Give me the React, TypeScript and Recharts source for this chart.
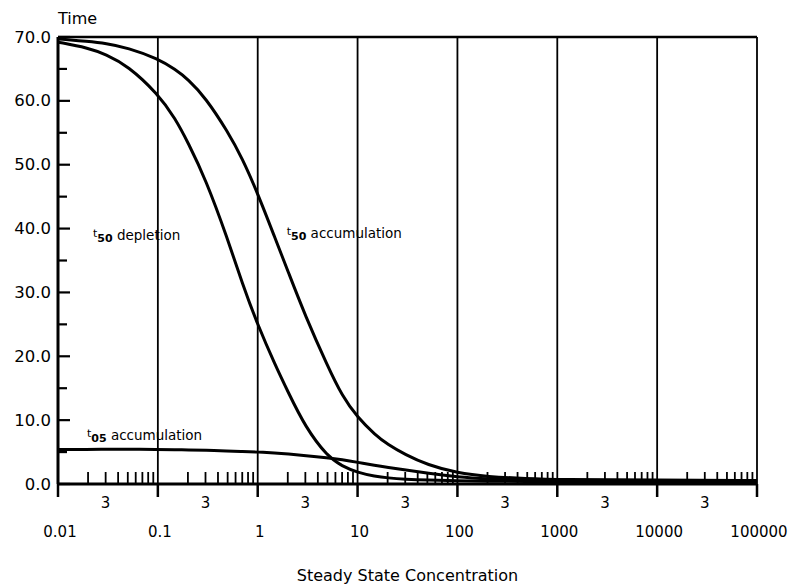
import React from 'react';
import { LineChart, Line, XAxis, YAxis, ReferenceLine, ReferenceDot } from 'recharts';

const concentrations = [0.01, 0.02, 0.03, 0.05, 0.1, 0.15, 0.2, 0.3, 0.5, 0.7, 1, 1.5, 2, 3, 5, 7, 10, 15, 20, 30, 50, 100, 200, 500, 1000, 10000, 100000];
const t50Accumulation = [69.7, 69.3, 69.0, 68.3, 66.6, 64.9, 63.4, 60.5, 55.2, 51.0, 45.5, 38.4, 33.4, 26.3, 18.5, 13.8, 10.4, 7.7, 6.2, 4.6, 3.0, 1.7, 1.15, 0.85, 0.7, 0.6, 0.55];
const t50Depletion = [69.2, 68.3, 67.3, 65.5, 61.1, 57.2, 53.5, 47.8, 38.4, 31.4, 24.9, 18.6, 14.5, 8.9, 4.3, 2.8, 1.8, 1.2, 0.95, 0.75, 0.6, 0.5, 0.45, 0.4, 0.35, 0.3, 0.3];
const t05Accumulation = [5.4, 5.42, 5.45, 5.45, 5.4, 5.38, 5.35, 5.28, 5.18, 5.1, 5.0, 4.85, 4.7, 4.45, 4.1, 3.8, 3.4, 2.9, 2.6, 2.2, 1.7, 1.1, 0.8, 0.6, 0.5, 0.45, 0.45];

const decades = [0.01, 0.1, 1, 10, 100, 1000, 10000, 100000];
const decadeLabels = ['0.01', '0.1', '1', '10', '100', '1000', '10000', '100000'];
const minorMultipliers = [2, 3, 4, 5, 6, 7, 8, 9];
const yTicks = [0, 5, 10, 15, 20, 25, 30, 35, 40, 45, 50, 55, 60, 65, 70];

const annotations = [
  { x: 0.0224, y: 39.0, sub: '50', text: ' depletion' },
  { x: 1.95, y: 39.3, sub: '50', text: ' accumulation' },
  { x: 0.0195, y: 7.6, sub: '05', text: ' accumulation' },
];

const data = concentrations.map((c, i) => ({
  conc: c,
  t50acc: t50Accumulation[i],
  t50dep: t50Depletion[i],
  t05acc: t05Accumulation[i],
}));

const xTicks: number[] = [];
decades.forEach((d, i) => {
  xTicks.push(d);
  if (i < decades.length - 1) minorMultipliers.forEach((m) => xTicks.push(+(d * m).toPrecision(6)));
});

const FONT = '"DejaVu Sans", sans-serif';

const XTick = (props: any) => {
  const { x, y, payload } = props;
  const v = payload.value;
  const exp = Math.floor(Math.log10(v) + 1e-9);
  const m = Math.round(v / Math.pow(10, exp));
  if (m === 1) {
    const idx = decades.findIndex((d) => Math.abs(Math.log10(d) - Math.log10(v)) < 1e-6);
    return (
      <g>
        <line x1={x} y1={y} x2={x} y2={y + 13} stroke="#000" strokeWidth={2.5} />
        <text x={x + 2} y={y + 48} textAnchor="middle" dominantBaseline="central" fontFamily={FONT} fontSize={15} fill="#000">
          {decadeLabels[idx]}
        </text>
      </g>
    );
  }
  return (
    <g>
      <line x1={x} y1={y} x2={x} y2={y - 12} stroke="#000" strokeWidth={1.8} />
      {m === 3 ? (
        <text x={x} y={y + 19} textAnchor="middle" dominantBaseline="central" fontFamily={FONT} fontSize={15} fill="#000">
          3
        </text>
      ) : null}
    </g>
  );
};

const YTick = (props: any) => {
  const { x, y, payload } = props;
  const v = payload.value;
  const major = v % 10 === 0;
  return (
    <g>
      <line x1={x} y1={y} x2={x + (major ? 12 : 9)} y2={y} stroke="#000" strokeWidth={2.2} />
      {major ? (
        <text x={x - 7} y={y} textAnchor="end" dominantBaseline="central" fontFamily={FONT} fontSize={16.5} fill="#000">
          {v.toFixed(1)}
        </text>
      ) : null}
    </g>
  );
};

const annotationLabel = (a: { sub: string; text: string }) => (props: any) => {
  const vb = props.viewBox || {};
  const x = (vb.x ?? 0) + (vb.width ?? 0) / 2;
  const y = (vb.y ?? 0) + (vb.height ?? 0) / 2;
  return (
    <text x={x} y={y} fontFamily={FONT} fontSize={13.5} fill="#000" dominantBaseline="central">
      <tspan fontSize={11} dy={-2}>t</tspan>
      <tspan fontSize={11} dy={5} fontWeight="bold">{a.sub}</tspan>
      <tspan dy={-3}>{a.text}</tspan>
    </text>
  );
};

const timeLabel = (props: any) => {
  const vb = props.viewBox || {};
  const x = (vb.x ?? 0) + (vb.width ?? 0) / 2;
  const y = (vb.y ?? 0) + (vb.height ?? 0) / 2;
  return (
    <text x={x} y={y - 19} fontFamily={FONT} fontSize={16} fill="#000" dominantBaseline="central">
      Time
    </text>
  );
};

export default function App() {
  return (
    <div style={{ position: 'absolute', left: 0, top: 0, background: '#fff' }}>
      <LineChart width={799} height={588} data={data} margin={{ top: 37, right: 42, bottom: 0, left: 0 }}>
        <XAxis
          dataKey="conc"
          type="number"
          scale="log"
          domain={[0.01, 100000]}
          ticks={xTicks}
          interval={0}
          tick={<XTick />}
          tickLine={false}
          tickSize={0}
          tickMargin={0}
          height={104}
          axisLine={{ stroke: '#000', strokeWidth: 3 }}
          allowDataOverflow
          label={{ value: 'Steady State Concentration', position: 'insideBottom', offset: 7, fontFamily: FONT, fontSize: 16, fill: '#000' }}
        />
        <YAxis
          type="number"
          domain={[0, 70]}
          ticks={yTicks}
          interval={0}
          tick={<YTick />}
          tickLine={false}
          tickSize={0}
          tickMargin={0}
          width={58}
          axisLine={{ stroke: '#000', strokeWidth: 3 }}
        />
        {decades.slice(1).map((d) => (
          <ReferenceLine key={d} x={d} stroke="#000" strokeWidth={1.8} />
        ))}
        <ReferenceLine y={70} stroke="#000" strokeWidth={2.5} />
        {annotations.map((a, i) => (
          <ReferenceDot key={i} x={a.x} y={a.y} r={0} fill="none" stroke="none" label={{ content: annotationLabel(a) }} />
        ))}
        <ReferenceDot x={0.01} y={70} r={0} fill="none" stroke="none" label={{ content: timeLabel }} />
        <Line type="basis" dataKey="t50acc" stroke="#000" strokeWidth={3} dot={false} isAnimationActive={false} />
        <Line type="basis" dataKey="t50dep" stroke="#000" strokeWidth={3} dot={false} isAnimationActive={false} />
        <Line type="basis" dataKey="t05acc" stroke="#000" strokeWidth={3} dot={false} isAnimationActive={false} />
      </LineChart>
    </div>
  );
}
